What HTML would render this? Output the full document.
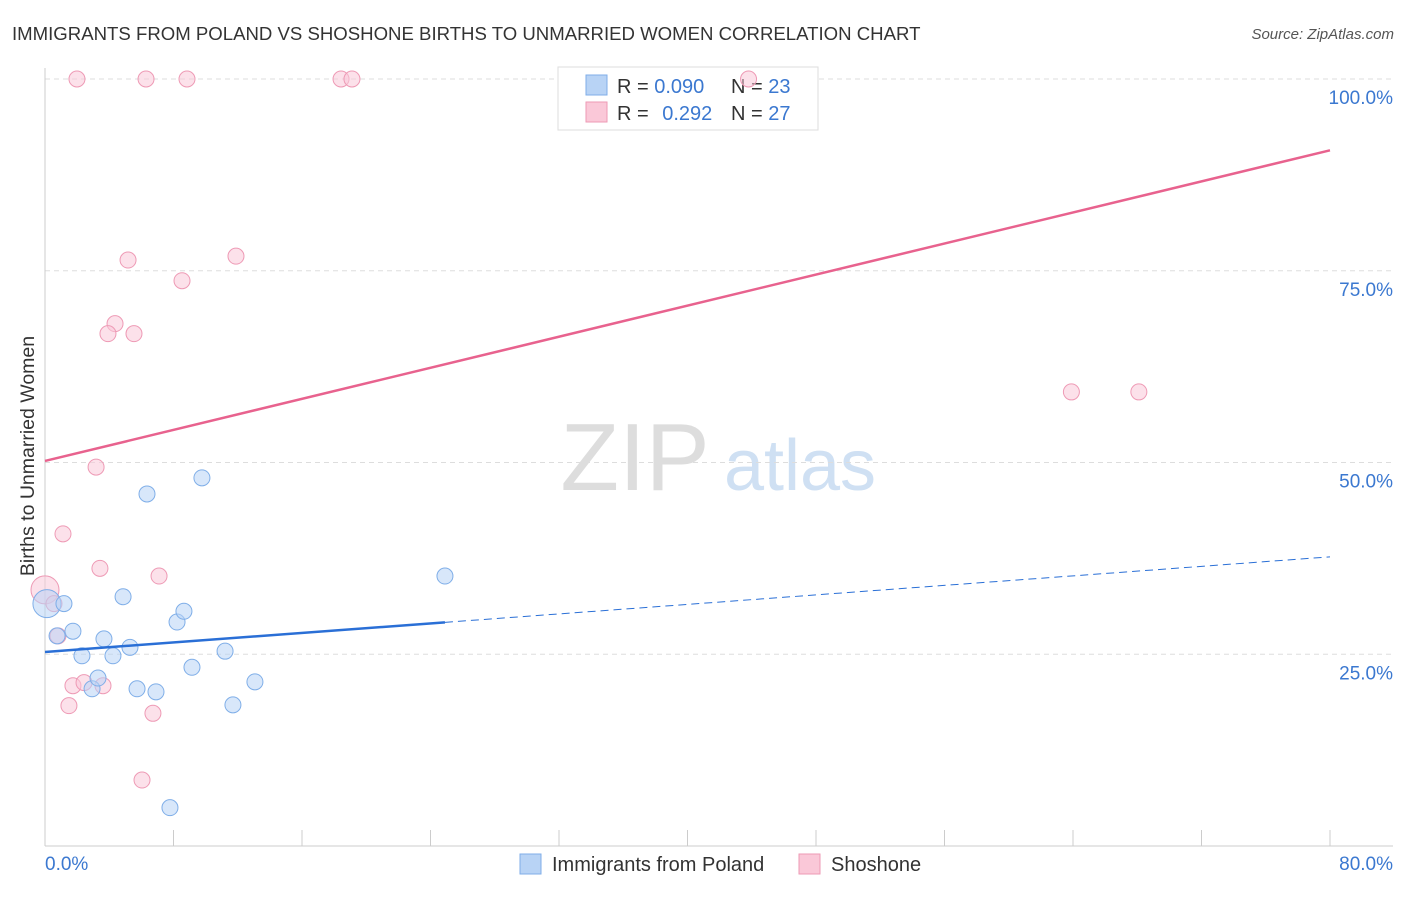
<!DOCTYPE html>
<html><head><meta charset="utf-8"><style>
body{margin:0;background:#fff;font-family:"Liberation Sans",sans-serif;}
svg text{font-family:"Liberation Sans",sans-serif;}
</style></head><body>
<svg id="c" width="1406" height="892">
<text x="12" y="40" font-size="18.6" fill="#333">IMMIGRANTS FROM POLAND VS SHOSHONE BIRTHS TO UNMARRIED WOMEN CORRELATION CHART</text>
<text x="1394" y="39" font-size="15" fill="#555" font-style="italic" text-anchor="end">Source: ZipAtlas.com</text>
<text x="34" y="456" font-size="19.5" fill="#333" text-anchor="middle" transform="rotate(-90 34 456)">Births to Unmarried Women</text>
<g><text x="635" y="490" font-size="96" fill="#ddd" font-family="Liberation Serif" text-anchor="middle">ZIP</text><text x="800" y="490" font-size="72" fill="#cfe0f3" text-anchor="middle">atlas</text></g>
<g id="grid"></g>
<g>
<rect x="558" y="67" width="260" height="63" fill="#fff" stroke="#ddd"/>
<rect x="586" y="75" width="21" height="20" fill="#b8d3f5" stroke="#7faee8"/>
<rect x="586" y="102" width="21" height="20" fill="#fac8d8" stroke="#ee9ab5"/>
<text x="617" y="93" font-size="20" fill="#333">R = <tspan fill="#3b78d0">0.090</tspan></text>
<text x="731" y="93" font-size="20" fill="#333">N = <tspan fill="#3b78d0">23</tspan></text>
<text x="617" y="120" font-size="20" fill="#333">R = <tspan fill="#3b78d0" dx="8">0.292</tspan></text>
<text x="731" y="120" font-size="20" fill="#333">N = <tspan fill="#3b78d0">27</tspan></text>
</g>
<g id="marks"></g>
<g>
<rect x="520" y="854" width="21" height="20" fill="#b8d3f5" stroke="#7faee8"/>
<text x="552" y="871" font-size="20" fill="#333">Immigrants from Poland</text>
<rect x="799" y="854" width="21" height="20" fill="#fac8d8" stroke="#ee9ab5"/>
<text x="831" y="871" font-size="20" fill="#333">Shoshone</text>
</g>
</svg>
<script>
const yTicks=[25,50,75,100];
const xTickCount=10;
const xLabels=["0.0%","80.0%"];
const blueX=[0.12,1.18,0.75,1.74,2.30,2.93,3.30,3.67,4.23,4.86,5.29,5.73,6.35,6.91,7.78,8.22,8.65,9.15,9.77,11.21,11.70,13.07,24.9];
const blueY=[31.6,31.6,27.4,28.0,24.8,20.5,21.9,27.0,24.8,32.5,25.9,20.5,45.9,20.1,5.0,29.2,30.6,23.3,48.0,25.4,18.4,21.4,35.2];
const pinkX=[1.99,6.29,8.84,18.43,19.11,43.8,5.17,11.89,8.53,4.36,3.92,5.54,3.18,1.12,3.42,7.10,0,0.56,0.81,1.74,2.43,3.61,1.49,6.72,6.04,63.9,68.1];
const pinkY=[100,100,100,100,100,100,76.4,76.9,73.7,68.1,66.8,66.8,49.4,40.7,36.2,35.2,33.4,31.6,27.4,20.9,21.3,20.9,18.3,17.3,8.6,59.2,59.2];
const blueTrend=[25.3,37.7];
const pinkTrend=[50.2,90.7];
const blueSolidEnd=24.9;
const X=v=>45+v/80*1285, Y=v=>846-v/100*767;
const NS="http://www.w3.org/2000/svg";
function mk(tag,at,parent){const e=document.createElementNS(NS,tag);for(const k in at)e.setAttribute(k,at[k]);parent.appendChild(e);return e;}
const g=document.getElementById('grid'), m=document.getElementById('marks');
yTicks.forEach(t=>{
 const l=mk('line',{x1:45,x2:1393,y1:Y(t),y2:Y(t),stroke:'#ddd','stroke-dasharray':'5,4'},g);
 
 
 const tx=mk('text',{x:1393,y:Y(t)+25,'font-size':19,fill:'#3b78d0','text-anchor':'end'},g);tx.textContent=t.toFixed(1)+'%';
 
 
});
const ax=mk('line',{x1:45,x2:45,y1:68,y2:846,stroke:'#ccc'},g);


const bx=mk('line',{x1:45,x2:1393,y1:846,y2:846,stroke:'#ccc'},g);


for(let i=0;i<=xTickCount;i++){const t=mk('line',{x1:X(i*8),x2:X(i*8),y1:830,y2:846,stroke:'#ccc'},g);
 
 }
[[0,'start',45],[80,'end',1393]].forEach((a,i)=>{const t=mk('text',{x:a[2],y:870,'font-size':19,fill:'#3b78d0','text-anchor':a[1]},g);t.textContent=xLabels[i];
 
 });
function dots(xs,ys,fill,stroke,name){xs.forEach((x,i)=>{const c=mk('circle',{cx:X(x),cy:Y(ys[i]),r:(x<0.2?14:8),fill:fill,'fill-opacity':0.55,stroke:stroke,'stroke-width':1},m);
 
 });}
dots(pinkX,pinkY,'#fac8d8','#ee9ab5','shoshone-point');
dots(blueX,blueY,'#b8d3f5','#7faee8','poland-point');
const pl=mk('line',{x1:X(0),y1:Y(pinkTrend[0]),x2:X(80),y2:Y(pinkTrend[1]),stroke:'#e8628e','stroke-width':2.5},m);


const by=v=>blueTrend[0]+(blueTrend[1]-blueTrend[0])*v/80;
const bl=mk('line',{x1:X(0),y1:Y(blueTrend[0]),x2:X(blueSolidEnd),y2:Y(by(blueSolidEnd)),stroke:'#2a6fd6','stroke-width':2.5},m);


const bd=mk('line',{x1:X(blueSolidEnd),y1:Y(by(blueSolidEnd)),x2:X(80),y2:Y(blueTrend[1]),stroke:'#2a6fd6','stroke-width':1,'stroke-dasharray':'8,5'},m);


</script>
</body></html>
